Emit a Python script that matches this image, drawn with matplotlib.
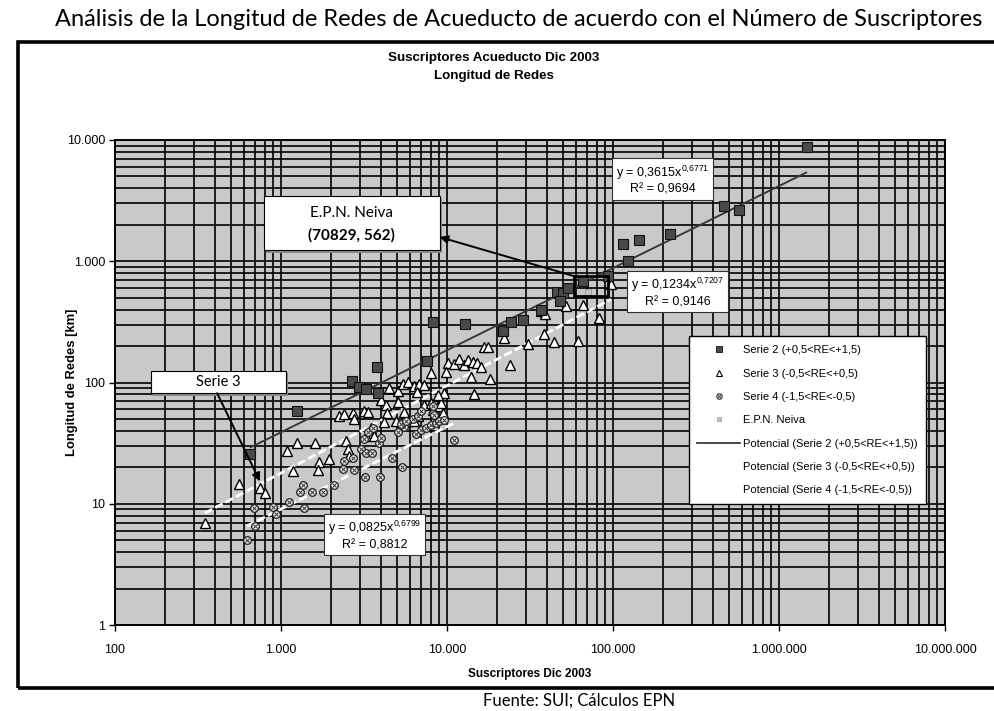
import matplotlib
matplotlib.use('Agg')
import matplotlib.pyplot as plt
import numpy as np
from matplotlib import font_manager
from matplotlib.ticker import FixedLocator, FuncFormatter, NullFormatter
from matplotlib.lines import Line2D
from matplotlib.patches import Rectangle
from matplotlib.legend_handler import HandlerTuple

names = {f.name for f in font_manager.fontManager.ttflist}
NARROW = 'Liberation Sans Narrow' if 'Liberation Sans Narrow' in names else None
BASE = 'Liberation Sans'
DOC = 'Lato' if 'Lato' in names else 'DejaVu Sans'
plt.rcParams['font.family'] = [BASE, 'DejaVu Sans']
plt.rcParams['mathtext.default'] = 'regular'

# ---------------- data ----------------
s2_x = [650, 1250, 2680, 2950, 3250, 3840, 3790, 7590, 8240, 12800, 21700, 24300,
        28700, 36800, 46000, 50000, 47900, 53600, 66000, 93300, 123000, 115000,
        143000, 220000, 467000, 574000, 1475000]
s2_y = [25.8, 58, 103, 91, 88, 82, 134, 150, 316, 305, 264, 315,
        330, 397, 554, 546, 468, 603, 682, 749, 1010, 1393,
        1490, 1670, 2850, 2670, 8700]

s3_x = [348, 558, 747, 801, 1087, 1248, 1603, 1180, 1694, 1671, 1945, 2466, 2535,
        2570, 2234, 2398, 2718, 2754, 3162, 3342, 3251, 3487, 3631, 4000, 4475,
        5070, 5433, 5822, 6324, 6776, 4293, 4357, 5070, 5510, 5822, 6324, 6686,
        7266, 8010, 8830, 9200, 9600, 8830, 8240, 9460, 4170, 4930, 10140, 11020,
        11800, 12650, 13390, 14350, 15180, 9860, 16030, 13960, 18150, 14550, 16710,
        17660, 23990, 22030, 30760, 38400, 44150, 61520, 82400, 52120, 36810,
        38900, 65920, 97300, 8010, 7260, 6590]
s3_y = [7.0, 14.5, 13.4, 12.2, 27.0, 31.7, 31.5, 18.5, 22.0, 18.9, 23.4, 32.8, 28.2,
        24.7, 52.5, 54.7, 56.1, 50.0, 58.7, 56.6, 36.5, 41.9, 36.1, 71.8, 90.8,
        84.6, 97.0, 101, 94.1, 98.1, 65.6, 56.3, 68.6, 56.9, 48.2, 48.3, 53.3,
        64.8, 67.6, 64.2, 68.1, 82.5, 79.1, 59.3, 56.4, 47.3, 47.8, 146, 142,
        156, 140, 154, 149, 144, 123, 134, 112, 107, 81.1, 196,
        196, 139, 231, 206, 252, 214, 221, 341, 427, 389,
        368, 432, 644, 120, 94.8, 84.1]

s4_x = [624, 697, 687, 895, 934, 1117, 1377, 1300, 1358, 1538, 1790, 2085, 2360,
        2398, 2718, 2754, 3206, 3945, 3034, 3251, 3532, 3892, 4000, 3162, 3342,
        3580, 4670, 5360, 5070, 5510, 6500, 6970, 7470, 8010, 8590, 8950, 9600,
        6240, 6680, 6970, 8240, 8360, 11020, 5290, 5660]
s4_y = [5.0, 6.6, 9.3, 9.4, 8.2, 10.3, 9.2, 12.5, 14.3, 12.6, 12.5, 14.3, 19.5,
        22.4, 23.8, 19.0, 16.7, 16.6, 28.4, 26.4, 26.0, 31.6, 34.8, 34.5, 38.7,
        41.9, 24.0, 20.0, 38.8, 42.8, 37.8, 40.2, 41.9, 44.5, 46.4, 48.3, 49.4,
        50.2, 53.3, 57.7, 64.0, 53.8, 33.4, 45.2, 48.1]

neiva_x = [70829]
neiva_y = [562]

# power trendlines y = a * x^b
trend_coef = {'s2': (0.3615, 0.6771), 's3': (0.1234, 0.7207), 's4': (0.0825, 0.6799)}
trend_r2 = {'s2': '0,9694', 's3': '0,9146', 's4': '0,8812'}

legend_labels = ['Serie 2 (+0,5<RE<+1,5)', 'Serie 3 (-0,5<RE<+0,5)',
                 'Serie 4 (-1,5<RE<-0,5)', 'E.P.N. Neiva',
                 'Potencial (Serie 2 (+0,5<RE<+1,5))',
                 'Potencial (Serie 3 (-0,5<RE<+0,5))',
                 'Potencial (Serie 4 (-1,5<RE<-0,5))']
x_ticks = [1e2, 1e3, 1e4, 1e5, 1e6, 1e7]
y_ticks = [1, 10, 100, 1000, 10000]

# ---------------- figure ----------------
W, H = 994, 711
fig = plt.figure(figsize=(W / 100, H / 100), dpi=100)
fig.patch.set_facecolor('white')

def fx(px):
    return px / W

def fy(py):
    return 1 - py / H

L, R, T, B = 115, 945, 140, 625
ax = fig.add_axes([fx(L), fy(B), (R - L) / W, (B - T) / H])
ax.set_facecolor('#c9c9c9')
ax.set_xscale('log')
ax.set_yscale('log')
ax.set_xlim(1e2, 1e7)
ax.set_ylim(1, 1e4)

fmt = FuncFormatter(lambda v, p: f"{int(round(v)):,}".replace(',', '.'))
ax.xaxis.set_major_locator(FixedLocator(x_ticks))
ax.yaxis.set_major_locator(FixedLocator(y_ticks))
minx = [m * 10 ** d for d in range(2, 7) for m in range(2, 10)]
miny = [m * 10 ** d for d in range(0, 4) for m in range(2, 10)]
ax.xaxis.set_minor_locator(FixedLocator(minx))
ax.yaxis.set_minor_locator(FixedLocator(miny))
ax.xaxis.set_major_formatter(fmt)
ax.yaxis.set_major_formatter(fmt)
ax.xaxis.set_minor_formatter(NullFormatter())
ax.yaxis.set_minor_formatter(NullFormatter())
ax.tick_params(which='major', direction='out', length=4, width=1, color='black',
               labelsize=9)
ax.tick_params(axis='x', which='major', pad=10)
ax.tick_params(axis='y', which='major', pad=3)
ax.tick_params(which='minor', length=0)
ax.grid(which='both', color='black', lw=1.2, zorder=1)
ax.set_axisbelow(True)
for s in ax.spines.values():
    s.set_color('black')
    s.set_linewidth(1.4)

if NARROW:
    tfam, tsize, xlsize, ylsize = NARROW, 11, 9.5, 10.5
else:
    tfam, tsize, xlsize, ylsize = BASE, 9.6, 8.5, 9.4

ax.set_xlabel('Suscriptores Dic 2003', family=tfam, fontweight='bold', fontsize=xlsize)
ax.set_ylabel('Longitud de Redes [km]', family=tfam, fontweight='bold', fontsize=ylsize)
ax.xaxis.set_label_coords(0.5, -0.088)
ax.yaxis.set_label_coords(-0.044, 0.5)

# trendlines
def trend(key, xs, **kw):
    a, b = trend_coef[key]
    xx = np.logspace(np.log10(min(xs)), np.log10(max(xs)), 100)
    ax.plot(xx, a * xx ** b, zorder=3, **kw)

trend('s2', s2_x, color='#3a3a3a', lw=1.4, solid_capstyle='butt')
trend('s3', s3_x, color='white', lw=2.0, ls=(0, (3, 1.2)))
trend('s4', s4_x, color='white', lw=2.0, ls=(0, (3, 1.2)))

# points
ax.plot(s3_x, s3_y, ls='none', marker='^', ms=6.5, mfc='white', mec='black',
        mew=1.0, zorder=4)
ax.plot(s4_x, s4_y, ls='none', marker='o', ms=5.5, mfc='#e6e6e6', mec='#222222',
        mew=0.9, zorder=4)
ax.plot(s4_x, s4_y, ls='none', marker='x', ms=3.2, mec='#333333', mew=0.7, zorder=4)
ax.plot(s2_x, s2_y, ls='none', marker='s', ms=6.5, mfc='#4a4a4a', mec='#111111',
        mew=0.8, zorder=5)
ax.plot(neiva_x, neiva_y, ls='none', marker='s', ms=4, mfc='#c4c4c4',
        mec='#9a9a9a', mew=0.6, zorder=6)

# rectangle around E.P.N. Neiva
ax.add_patch(Rectangle((58000, 520), 93300 - 58000, 760 - 520, fill=False,
                       ec='black', lw=2.0, zorder=6))

# trend equation boxes
def eq_label(key, xf, yf):
    a, b = trend_coef[key]
    a_s = f"{a}".replace('.', ',')
    b_s = f"{b}".replace('.', '{,}')
    txt = f"y = {a_s}x$^{{{b_s}}}$\nR² = {trend_r2[key]}"
    ax.text(xf, yf, txt, transform=ax.transAxes, ha='center', va='center',
            fontsize=9, multialignment='center', zorder=8,
            bbox=dict(boxstyle='square,pad=0.3', fc='white', ec='#333333', lw=0.8))

eq_label('s2', 0.66, 0.918)
eq_label('s3', 0.678, 0.686)
eq_label('s4', 0.313, 0.185)

# callout boxes
def callout(x0, y0, w, h):
    off_x, off_y = 2.5 / (R - L), 2.5 / (B - T)
    ax.add_patch(Rectangle((x0 + off_x, y0 - off_y), w, h, transform=ax.transAxes,
                           fc='#8a8a8a', ec='none', zorder=8))
    ax.add_patch(Rectangle((x0, y0), w, h, transform=ax.transAxes, fc='white',
                           ec='black', lw=0.8, zorder=9))

callout(0.179, 0.773, 0.212, 0.112)
ax.text(0.285, 0.849, 'E.P.N. Neiva', transform=ax.transAxes, ha='center',
        va='center', fontsize=11, family=DOC, zorder=10)
ax.text(0.285, 0.804, '(70829, 562)', transform=ax.transAxes, ha='center',
        va='center', fontsize=11, family=DOC, fontweight='bold', zorder=10)
ax.annotate('', xy=(0.391, 0.80), xycoords='axes fraction',
            xytext=(58000, 755), textcoords='data',
            arrowprops=dict(arrowstyle='-|>', color='black', lw=1.4,
                            mutation_scale=12, shrinkA=0, shrinkB=0), zorder=10)

callout(0.043, 0.478, 0.163, 0.046)
ax.text(0.1245, 0.501, 'Serie 3', transform=ax.transAxes, ha='center',
        va='center', fontsize=10.5, family=DOC, zorder=10)
ax.annotate('', xy=(747, 15.3), xycoords='data',
            xytext=(0.123, 0.478), textcoords='axes fraction',
            arrowprops=dict(arrowstyle='-|>', color='black', lw=1.4,
                            mutation_scale=12, shrinkA=0, shrinkB=0), zorder=10)

# legend
h_s2 = Line2D([], [], ls='none', marker='s', ms=4, mfc='#4a4a4a', mec='#111111', mew=0.6)
h_s3 = Line2D([], [], ls='none', marker='^', ms=4.5, mfc='white', mec='black', mew=0.8)
h_s4a = Line2D([], [], ls='none', marker='o', ms=4, mfc='#e6e6e6', mec='#222222', mew=0.7)
h_s4b = Line2D([], [], ls='none', marker='x', ms=2.4, mec='#333333', mew=0.6)
h_nv = Line2D([], [], ls='none', marker='s', ms=3, mfc='#c4c4c4', mec='#9a9a9a', mew=0.5)
h_t2 = Line2D([], [], color='#3a3a3a', lw=1.3)
h_t3 = Line2D([], [], color='white', lw=1.6)
h_t4 = Line2D([], [], color='white', lw=1.6)
leg = ax.legend([h_s2, h_s3, (h_s4a, h_s4b), h_nv, h_t2, h_t3, h_t4], legend_labels,
                handler_map={tuple: HandlerTuple(ndivide=1)},
                loc='upper left', bbox_to_anchor=(0.691, 0.595), fontsize=8,
                frameon=True, fancybox=False, edgecolor='black', facecolor='white',
                framealpha=1, labelspacing=1.2, handlelength=3.8,
                handletextpad=0.3, borderpad=0.8, borderaxespad=0)
leg.get_frame().set_linewidth(1.0)
leg.set_zorder(11)

# titles and page text
fig.text(fx(494), fy(58), 'Suscriptores Acueducto Dic 2003', ha='center', va='center',
         family=tfam, fontweight='bold', fontsize=tsize)
fig.text(fx(494), fy(76), 'Longitud de Redes', ha='center', va='center',
         family=tfam, fontweight='bold', fontsize=tsize)
fig.text(fx(55), fy(20), 'Análisis de la Longitud de Redes de Acueducto de acuerdo con '
         'el Número de Suscriptores', ha='left', va='center', family=DOC, fontsize=17)
fig.text(fx(483), fy(709), 'Fuente: SUI; Cálculos EPN', ha='left', va='bottom',
         family=DOC, fontsize=12)

fig.add_artist(Rectangle((fx(18), fy(688)), (1010 - 18) / W, (688 - 42) / H,
                         transform=fig.transFigure, fill=False, ec='black', lw=2.6,
                         clip_on=False))

fig.savefig('out.png', dpi=100)
